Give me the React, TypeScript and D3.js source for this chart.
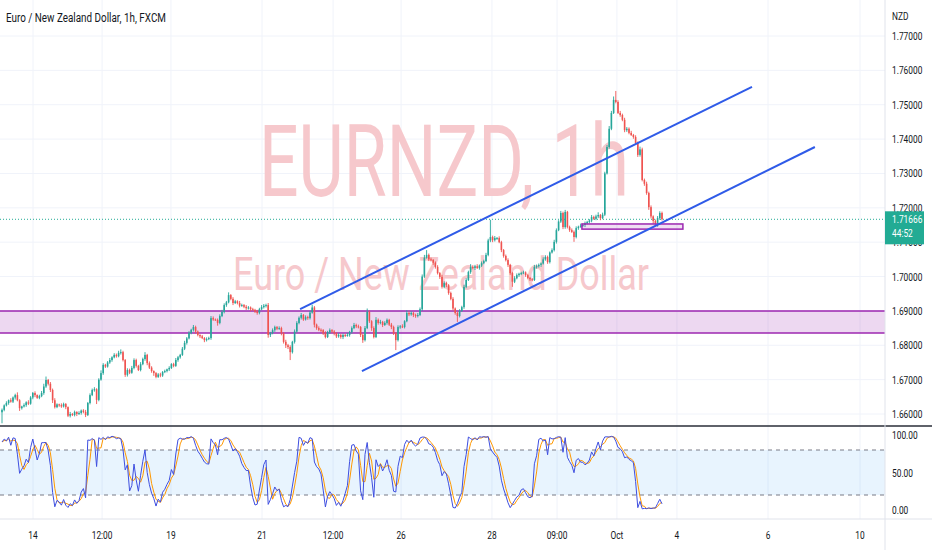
import React from 'react';
import * as d3 from 'd3';

// EURNZD 1h, FXCM. Closes in pips above 1.6000, one per hourly bar
const closePips = [
  612, 625, 632, 640, 636, 648, 655, 640, 617, 622, 626, 634, 630, 648, 661, 655, 647, 652, 661, 680,
  699, 688, 670, 640, 620, 628, 626, 622, 629, 620, 595, 600, 597, 606, 600, 603, 610, 606, 597, 632,
  655, 670, 672, 641, 700, 719, 743, 738, 750, 757, 765, 772, 768, 778, 780, 757, 714, 728, 720, 734,
  757, 740, 728, 745, 760, 772, 748, 735, 725, 719, 708, 715, 712, 722, 725, 730, 734, 745, 740, 757,
  765, 772, 790, 807, 820, 836, 845, 853, 840, 830, 826, 821, 815, 818, 821, 879, 875, 874, 865, 885,
  897, 917, 925, 946, 935, 923, 928, 923, 915, 917, 912, 908, 910, 905, 903, 898, 894, 905, 911, 915,
  917, 830, 836, 844, 853, 848, 850, 835, 810, 800, 795, 780, 810, 840, 865, 880, 888, 875, 882, 879,
  895, 910, 860, 850, 845, 844, 835, 824, 838, 844, 840, 835, 826, 830, 824, 830, 828, 830, 838, 850,
  859, 855, 853, 830, 815, 850, 897, 870, 850, 824, 874, 865, 868, 859, 865, 874, 860, 853, 835, 815,
  853, 855, 853, 870, 894, 890, 894, 888, 885, 888, 905, 1000, 1055, 1063, 1050, 1048, 1040, 1028, 1010, 999,
  970, 981, 975, 952, 935, 907, 894, 885, 900, 911, 970, 990, 1013, 1028, 1025, 1030, 1025, 1032, 1039, 1045,
  1063, 1105, 1115, 1106, 1112, 1112, 1100, 1077, 1060, 1048, 1034, 1010, 985, 995, 1004, 1008, 1010, 1012, 1004, 996,
  992, 990, 1028, 1030, 1034, 1038, 1050, 1057, 1042, 1070, 1077, 1101, 1135, 1160, 1185, 1144, 1188, 1144, 1135, 1130,
  1115, 1141, 1145, 1148, 1150, 1155, 1159, 1163, 1173, 1168, 1175, 1179, 1170, 1180, 1300, 1377, 1430, 1476, 1514, 1508,
  1476, 1470, 1456, 1426, 1430, 1418, 1412, 1406, 1389, 1354, 1370, 1281, 1270, 1243, 1202, 1175, 1162, 1155, 1170, 1185,
  1167,
];

// upper / lower wick length in pips beyond the body
const hiWick = [
  4, 3, 5, 2, 6, 3, 4, 8, 3, 2, 5, 3, 6, 4, 3, 5, 2, 4, 6, 8,
  10, 3, 5, 4, 6, 3, 2, 5, 4, 3, 2, 6, 3, 4, 2, 5, 3, 4, 6, 3,
  5, 4, 6, 3, 4, 8, 5, 3, 4, 6, 3, 5, 4, 6, 8, 4, 3, 5, 4, 6,
  5, 4, 3, 6, 4, 8, 3, 5, 4, 2, 3, 4, 5, 3, 4, 2, 5, 3, 4, 6,
  4, 3, 5, 6, 4, 5, 3, 6, 4, 3, 2, 4, 3, 5, 4, 6, 5, 3, 4, 5,
  6, 5, 4, 8, 3, 5, 4, 3, 6, 4, 3, 5, 4, 3, 4, 3, 5, 4, 6, 5,
  4, 6, 3, 5, 4, 3, 5, 4, 3, 6, 4, 5, 3, 6, 5, 4, 6, 3, 5, 4,
  5, 8, 4, 3, 5, 4, 3, 6, 4, 5, 3, 4, 3, 5, 3, 4, 3, 6, 4, 5,
  6, 4, 5, 3, 4, 6, 10, 4, 3, 5, 8, 4, 6, 3, 5, 4, 3, 5, 4, 3,
  5, 4, 6, 3, 8, 4, 5, 3, 4, 6, 5, 6, 8, 14, 4, 5, 3, 4, 5, 3,
  6, 5, 4, 3, 4, 5, 3, 4, 5, 4, 6, 5, 4, 8, 5, 4, 6, 3, 5, 4,
  6, 5, 50, 4, 6, 3, 5, 4, 3, 4, 5, 3, 4, 6, 5, 3, 4, 5, 3, 4,
  3, 4, 6, 5, 4, 3, 6, 5, 4, 3, 5, 6, 5, 4, 6, 4, 6, 3, 4, 5,
  4, 5, 3, 6, 4, 5, 3, 4, 6, 4, 5, 8, 3, 6, 5, 6, 8, 6, 10, 26,
  5, 6, 4, 6, 5, 4, 6, 3, 5, 4, 8, 5, 4, 6, 4, 5, 3, 4, 6, 5,
  4,
];
const loWick = [
  32, 4, 3, 5, 3, 4, 6, 3, 8, 4, 3, 5, 4, 3, 5, 6, 3, 4, 3, 5,
  4, 5, 6, 8, 4, 3, 5, 4, 3, 6, 4, 5, 3, 4, 6, 3, 5, 4, 6, 3,
  4, 3, 5, 12, 4, 3, 5, 4, 3, 4, 5, 3, 4, 3, 5, 4, 6, 5, 4, 3,
  4, 5, 3, 4, 3, 5, 6, 4, 5, 8, 4, 3, 5, 4, 3, 4, 5, 3, 4, 3,
  5, 4, 3, 4, 5, 3, 4, 5, 6, 4, 5, 3, 6, 4, 3, 5, 4, 3, 8, 4,
  3, 4, 5, 3, 4, 6, 3, 4, 5, 3, 4, 5, 4, 6, 3, 4, 5, 4, 3, 4,
  5, 8, 6, 4, 5, 4, 3, 6, 5, 8, 6, 23, 4, 5, 3, 4, 5, 4, 3, 5,
  4, 3, 8, 5, 4, 6, 5, 4, 3, 5, 4, 6, 5, 4, 5, 6, 4, 3, 5, 4,
  3, 5, 4, 6, 8, 4, 3, 5, 8, 4, 3, 5, 4, 6, 3, 5, 4, 6, 5, 29,
  4, 5, 3, 4, 3, 5, 4, 6, 5, 4, 3, 5, 4, 3, 5, 4, 6, 5, 4, 6,
  5, 4, 6, 5, 4, 6, 5, 17, 4, 3, 5, 4, 3, 5, 4, 6, 3, 5, 4, 3,
  3, 4, 5, 6, 4, 5, 3, 6, 5, 4, 6, 5, 15, 4, 3, 5, 4, 3, 5, 4,
  5, 4, 3, 5, 4, 6, 3, 4, 5, 4, 3, 4, 5, 3, 4, 6, 5, 4, 5, 3,
  14, 4, 5, 3, 4, 6, 3, 4, 5, 3, 4, 5, 6, 3, 4, 3, 5, 4, 3, 4,
  3, 5, 4, 6, 5, 4, 3, 5, 4, 6, 5, 4, 6, 5, 8, 6, 8, 8, 10, 5,
  4,
];
const firstOpenPips = 605;

const priceTicks = [1.66, 1.67, 1.68, 1.69, 1.7, 1.71, 1.72, 1.73, 1.74, 1.75, 1.76, 1.77];
const oscTicks = [100, 50, 0];
const oscBands = [80, 20];
// time labels, placed at bar index (fractional, future bars allowed)
const timeTicks = [
  { at: 14.1, label: '14' },
  { at: 45.5, label: '12:00' },
  { at: 76.8, label: '19' },
  { at: 118.2, label: '21' },
  { at: 150.5, label: '12:00' },
  { at: 181.4, label: '26' },
  { at: 222.7, label: '28' },
  { at: 252.3, label: '09:00' },
  { at: 279.5, label: 'Oct' },
  { at: 306.8, label: '4' },
  { at: 348.2, label: '6' },
  { at: 390, label: '10' },
];
// drawings: channel trend lines [barIndex, price]
const channelLines = [
  [[135.5, 1.6905], [340.9, 1.7552]],
  [[163.6, 1.6725], [369.5, 1.7377]],
];
const zoneLo = 1.6836;
const zoneHi = 1.69;
const boxFrom = 263.6;
const boxTo = 309.5;
const boxLo = 1.7138;
const boxHi = 1.7153;
const lastPrice = 1.71666;
const countdown = '44:52';

const W = 932;
const H = 550;
const paneRight = 885;
const mainBottom = 426;
const oscBottom = 519;
const UP = '#26a69a';
const DOWN = '#ef5350';
const FONT = 'Roboto, "Noto Sans", sans-serif';

function Txt({ x, y, size, anchor = 'start', fill = '#131722', children }: any) {
  // screenshot is horizontally squeezed, so are its labels
  return (
    <text
      transform={`translate(${x},${y}) scale(0.76,1)`}
      fontSize={size}
      fontFamily={FONT}
      textAnchor={anchor}
      fill={fill}
    >
      {children}
    </text>
  );
}

export default function App() {
  const pip = (p: number) => 1.6 + p / 10000;
  const candles = closePips.map((c, i) => {
    const o = i === 0 ? firstOpenPips : closePips[i - 1];
    return {
      i,
      open: pip(o),
      close: pip(c),
      high: pip(Math.max(o, c) + hiWick[i]),
      low: pip(Math.min(o, c) - loWick[i]),
    };
  });

  // Stochastic (14, 1, 3)
  const k = candles.map((d, i) => {
    const win = candles.slice(Math.max(0, i - 13), i + 1);
    const hh = d3.max(win, w => w.high)!;
    const ll = d3.min(win, w => w.low)!;
    return hh === ll ? 50 : (100 * (d.close - ll)) / (hh - ll);
  });
  const dline = k.map((_, i) => d3.mean(k.slice(Math.max(0, i - 2), i + 1))!);

  const x = d3.scaleLinear().domain([0, closePips.length - 1]).range([2, 662]);
  const y = d3.scaleLinear().domain([1.66, 1.77]).range([414, 36]);
  const yo = d3.scaleLinear().domain([0, 100]).range([510, 435]);

  const oscLine = d3.line<number>().x((_, i) => x(i)).y(v => yo(v));

  return (
    <div style={{ position: 'absolute', left: 0, top: 0 }}>
      <svg width={W} height={H} style={{ display: 'block', background: '#fff' }}>
        <defs>
          <clipPath id="mainClip">
            <rect x={0} y={0} width={paneRight} height={mainBottom} />
          </clipPath>
          <clipPath id="oscClip">
            <rect x={0} y={mainBottom + 1} width={paneRight} height={oscBottom - mainBottom - 1} />
          </clipPath>
        </defs>
        <rect x={0} y={0} width={W} height={H} fill="#ffffff" />

        {/* grid */}
        {timeTicks.map(t => (
          <line key={'vg' + t.label + t.at} x1={x(t.at)} x2={x(t.at)} y1={0} y2={oscBottom} stroke="#f0f3fa" />
        ))}
        {priceTicks.map(p => (
          <line key={'hg' + p} x1={0} x2={paneRight} y1={y(p)} y2={y(p)} stroke="#f0f3fa" />
        ))}

        {/* watermark */}
        <text
          x={259}
          y={196}
          fontSize={101}
          fontFamily={FONT}
          fill="#f6c8cc"
          textLength={370}
          lengthAdjust="spacingAndGlyphs"
        >
          EURNZD, 1h
        </text>
        <text
          x={233}
          y={290}
          fontSize={46}
          fontFamily={FONT}
          fill="#f6c8cc"
          textLength={416}
          lengthAdjust="spacingAndGlyphs"
        >
          Euro / New Zealand Dollar
        </text>

        <g clipPath="url(#mainClip)">
          {/* support zone */}
          <rect x={0} y={y(zoneHi)} width={paneRight} height={y(zoneLo) - y(zoneHi)} fill="rgba(156,39,176,0.18)" />
          <line x1={0} x2={paneRight} y1={y(zoneHi)} y2={y(zoneHi)} stroke="#9c27b0" strokeWidth={1.5} />
          <line x1={0} x2={paneRight} y1={y(zoneLo)} y2={y(zoneLo)} stroke="#9c27b0" strokeWidth={1.5} />

          {/* last price line */}
          <line
            x1={0}
            x2={paneRight}
            y1={y(lastPrice)}
            y2={y(lastPrice)}
            stroke="#22ab94"
            strokeWidth={1}
            strokeDasharray="1,2"
          />

          {/* candles */}
          {candles.map(d => {
            const up = d.close >= d.open;
            const col = up ? UP : DOWN;
            const top = y(Math.max(d.open, d.close));
            const bot = y(Math.min(d.open, d.close));
            return (
              <g key={d.i}>
                <line x1={x(d.i)} x2={x(d.i)} y1={y(d.high)} y2={y(d.low)} stroke={col} strokeWidth={0.9} />
                <rect x={x(d.i) - 0.8} y={top} width={1.6} height={Math.max(1, bot - top)} fill={col} />
              </g>
            );
          })}

          {/* small rectangle */}
          <rect
            x={x(boxFrom)}
            y={y(boxHi)}
            width={x(boxTo) - x(boxFrom)}
            height={y(boxLo) - y(boxHi)}
            fill="rgba(156,39,176,0.15)"
            stroke="#9c27b0"
            strokeWidth={1.5}
          />

          {/* channel */}
          {channelLines.map((l, i) => (
            <line
              key={'ch' + i}
              x1={x(l[0][0])}
              y1={y(l[0][1])}
              x2={x(l[1][0])}
              y2={y(l[1][1])}
              stroke="#2f5be8"
              strokeWidth={2}
            />
          ))}
        </g>

        {/* oscillator pane */}
        <g clipPath="url(#oscClip)">
          <rect x={0} y={yo(oscBands[0])} width={paneRight} height={yo(oscBands[1]) - yo(oscBands[0])} fill="rgba(33,150,243,0.1)" />
          {oscBands.map(b => (
            <line key={'b' + b} x1={0} x2={paneRight} y1={yo(b)} y2={yo(b)} stroke="#787b86" strokeDasharray="4,4" />
          ))}
          <path d={oscLine(dline) || ''} fill="none" stroke="#ff9800" strokeWidth={1} />
          <path d={oscLine(k) || ''} fill="none" stroke="#3f4fe0" strokeWidth={1} />
        </g>

        {/* pane borders */}
        <line x1={0} x2={W} y1={mainBottom} y2={mainBottom} stroke="#2a2e39" strokeWidth={1.5} />
        <line x1={0} x2={W} y1={oscBottom} y2={oscBottom} stroke="#e0e3eb" />
        <line x1={paneRight} x2={paneRight} y1={0} y2={H} stroke="#e0e3eb" />

        {/* price axis */}
        <Txt x={892} y={20} size={11}>NZD</Txt>
        {priceTicks.map(p => (
          <Txt key={'pt' + p} x={892} y={y(p) + 4} size={11}>
            {p.toFixed(5)}
          </Txt>
        ))}
        <rect x={paneRight} y={y(lastPrice) - 8} width={39} height={33} fill="#22ab94" />
        <Txt x={892} y={y(lastPrice) + 4} size={11} fill="#fff">
          {lastPrice.toFixed(5)}
        </Txt>
        <Txt x={892} y={y(lastPrice) + 18} size={11} fill="#fff">
          {countdown}
        </Txt>

        {/* oscillator axis */}
        {oscTicks.map(v => (
          <Txt key={'ot' + v} x={892} y={yo(v) + 4} size={11}>
            {v.toFixed(2)}
          </Txt>
        ))}

        {/* time axis */}
        {timeTicks.map(t => (
          <Txt key={'tt' + t.label + t.at} x={x(t.at)} y={539} size={11} anchor="middle">
            {t.label}
          </Txt>
        ))}

        {/* title */}
        <Txt x={6} y={22} size={13}>Euro / New Zealand Dollar, 1h, FXCM</Txt>
      </svg>
    </div>
  );
}
